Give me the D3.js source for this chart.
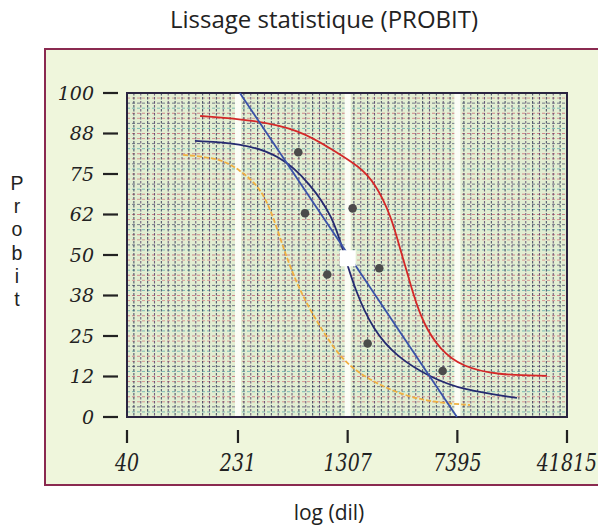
<!DOCTYPE html>
<html><head><meta charset="utf-8">
<script src="https://cdn.jsdelivr.net/npm/d3@7"></script>
<style>body{margin:0;background:#fff}svg{display:block}</style>
</head><body>
<svg id="c" width="598" height="531"></svg>
<script>
// ---- data ----
const xTicks = [40, 231, 1307, 7395, 41815];
const xTickLabels = ["40", "231", "1307", "7395", "41815"];
const yTicks = [0, 12.5, 25, 37.5, 50, 62.5, 75, 87.5, 100];
const yTickLabels = ["0", "12", "25", "38", "50", "62", "75", "88", "100"];

const redX = [127, 293, 615, 1036, 1587, 2012, 2590, 3034, 3388, 3666, 4296, 5616, 8077, 13823, 30450];
const redY = [92.9, 91.7, 88.6, 82.4, 77.2, 72.2, 62.3, 50.9, 43.8, 38.3, 29.0, 20.7, 15.4, 13.0, 12.7];

const navyX = [117, 238, 448, 720, 1036, 1213, 1467, 1949, 2848, 4797, 8077, 18961];
const navyY = [85.2, 84.6, 80.9, 72.2, 61.7, 51.5, 39.2, 26.9, 18.5, 12.3, 8.3, 5.9];

const lineX = [238, 7346];
const lineY = [100, 0];

const yellowX = [97, 174, 238, 327, 402, 501, 645, 844, 1213, 1859, 2848, 4797, 9022];
const yellowY = [80.9, 79.9, 76.2, 71.0, 62.3, 48.5, 37.0, 27.8, 17.0, 11.4, 7.4, 4.6, 3.7];

const ptX = [599, 666, 1414, 947, 2153, 1792, 5861];
const ptY = [81.7, 62.9, 64.4, 44.0, 45.9, 22.7, 14.2];

const centerX = [1307];
const centerY = [49];

// ---- drawing ----
const svg = d3.select("#c");
const L = 127, R = 567, T = 93, B = 417;
const x = d3.scaleLog().domain([40, 41815]).range([L, R]);
const y = d3.scaleLinear().domain([0, 100]).range([B, T]);

// outer frame
svg.append("rect").attr("x", 45).attr("y", 49).attr("width", 570).attr("height", 436)
  .attr("fill", "#eff6dc").attr("stroke", "#8a2a50").attr("stroke-width", 2);

// plot background
svg.append("rect").attr("x", L).attr("y", T).attr("width", R - L).attr("height", B - T)
  .attr("fill", "#e2eed2");

const grid = svg.append("g");
// horizontal grid lines (8 per 12.5)
const hcols = ["#c2405a", "#3a9aa0", "#2b2d55", "#d0606a"];
for (let i = 1; i < 64; i++) {
  const v = i * 100 / 64;
  grid.append("line").attr("x1", L).attr("x2", R).attr("y1", y(v)).attr("y2", y(v))
    .attr("stroke", hcols[i % 4]).attr("stroke-opacity", 0.6)
    .attr("stroke-width", 1).attr("stroke-dasharray", "3,2");
}
// vertical grid lines (16 per major log interval)
const ratio = 41815 / 40;
for (let i = 1; i < 64; i++) {
  const v = 40 * Math.pow(ratio, i / 64);
  grid.append("line").attr("x1", x(v)).attr("x2", x(v)).attr("y1", T).attr("y2", B)
    .attr("stroke", i % 2 ? "#1e2048" : "#4a2f60").attr("stroke-opacity", 0.75)
    .attr("stroke-width", 1.1).attr("stroke-dasharray", "2.5,1.5");
}
// white stripes
[231, 1307, 7395].forEach(v => {
  svg.append("rect").attr("x", x(v) - 3).attr("y", T + 1).attr("width", 6).attr("height", B - T - 2)
    .attr("fill", "#fbfdf6");
});

// plot border
svg.append("rect").attr("x", L).attr("y", T).attr("width", R - L).attr("height", B - T)
  .attr("fill", "none").attr("stroke", "#2a2440").attr("stroke-width", 2);

// curves
const mk = (xs, ys) => xs.map((d, i) => [d, ys[i]]);
const line = d3.line().x(d => x(d[0])).y(d => y(d[1])).curve(d3.curveBasis);
const straight = d3.line().x(d => x(d[0])).y(d => y(d[1]));

svg.append("path").attr("d", line(mk(yellowX, yellowY))).attr("fill", "none")
  .attr("stroke", "#f0b040").attr("stroke-width", 1.8).attr("stroke-dasharray", "5,2");
svg.append("path").attr("d", line(mk(redX, redY))).attr("fill", "none")
  .attr("stroke", "#d42828").attr("stroke-width", 1.8);
svg.append("path").attr("d", line(mk(navyX, navyY))).attr("fill", "none")
  .attr("stroke", "#252a70").attr("stroke-width", 1.8);
svg.append("path").attr("d", straight(mk(lineX, lineY))).attr("fill", "none")
  .attr("stroke", "#3a52a8").attr("stroke-width", 1.8);

// points
svg.append("g").selectAll("circle").data(mk(ptX, ptY)).join("circle")
  .attr("cx", d => x(d[0])).attr("cy", d => y(d[1])).attr("r", 4.3).attr("fill", "#4b4b4b");

// center square
svg.append("g").selectAll("rect").data(mk(centerX, centerY)).join("rect")
  .attr("x", d => x(d[0]) - 8).attr("y", d => y(d[1]) - 8).attr("width", 16).attr("height", 16)
  .attr("fill", "#ffffff");

// y axis: dash ticks + labels
const yAx = svg.append("g");
yTicks.forEach((v, i) => {
  yAx.append("line").attr("x1", 103).attr("x2", 118).attr("y1", y(v)).attr("y2", y(v))
    .attr("stroke", "#222").attr("stroke-width", 2.2);
  yAx.append("text").attr("x", 94).attr("y", y(v)).attr("dy", "0.36em")
    .attr("text-anchor", "end").attr("font-family", "DejaVu Serif").attr("font-style", "italic")
    .attr("font-size", 19).attr("fill", "#222").text(yTickLabels[i]);
});
// x axis: vertical ticks + labels
const xAx = svg.append("g");
xTicks.forEach((v, i) => {
  xAx.append("line").attr("x1", x(v)).attr("x2", x(v)).attr("y1", 430).attr("y2", 443)
    .attr("stroke", "#222").attr("stroke-width", 2.2);
  xAx.append("text").attr("transform", `translate(${x(v)},471) scale(1,1.25)`)
    .attr("text-anchor", "middle").attr("font-family", "DejaVu Serif").attr("font-style", "italic")
    .attr("font-size", 19).attr("fill", "#222").text(xTickLabels[i]);
});

// titles
svg.append("text").attr("x", 324).attr("y", 28).attr("text-anchor", "middle")
  .attr("font-family", "Open Sans").attr("font-size", 24).attr("fill", "#222")
  .text("Lissage statistique (PROBIT)");
svg.append("text").attr("x", 329).attr("y", 520).attr("text-anchor", "middle")
  .attr("font-family", "Open Sans").attr("font-size", 21).attr("fill", "#222")
  .text("log (dil)");
const letters = ["P", "r", "o", "b", "i", "t"];
const ylab = svg.append("text").attr("font-family", "Liberation Sans").attr("font-size", 19.5)
  .attr("fill", "#222").attr("text-anchor", "middle");
letters.forEach((c, i) => {
  ylab.append("tspan").attr("x", 17).attr(i === 0 ? "y" : "dy", i === 0 ? 190 : 23.2).text(c);
});
</script>
</body></html>
